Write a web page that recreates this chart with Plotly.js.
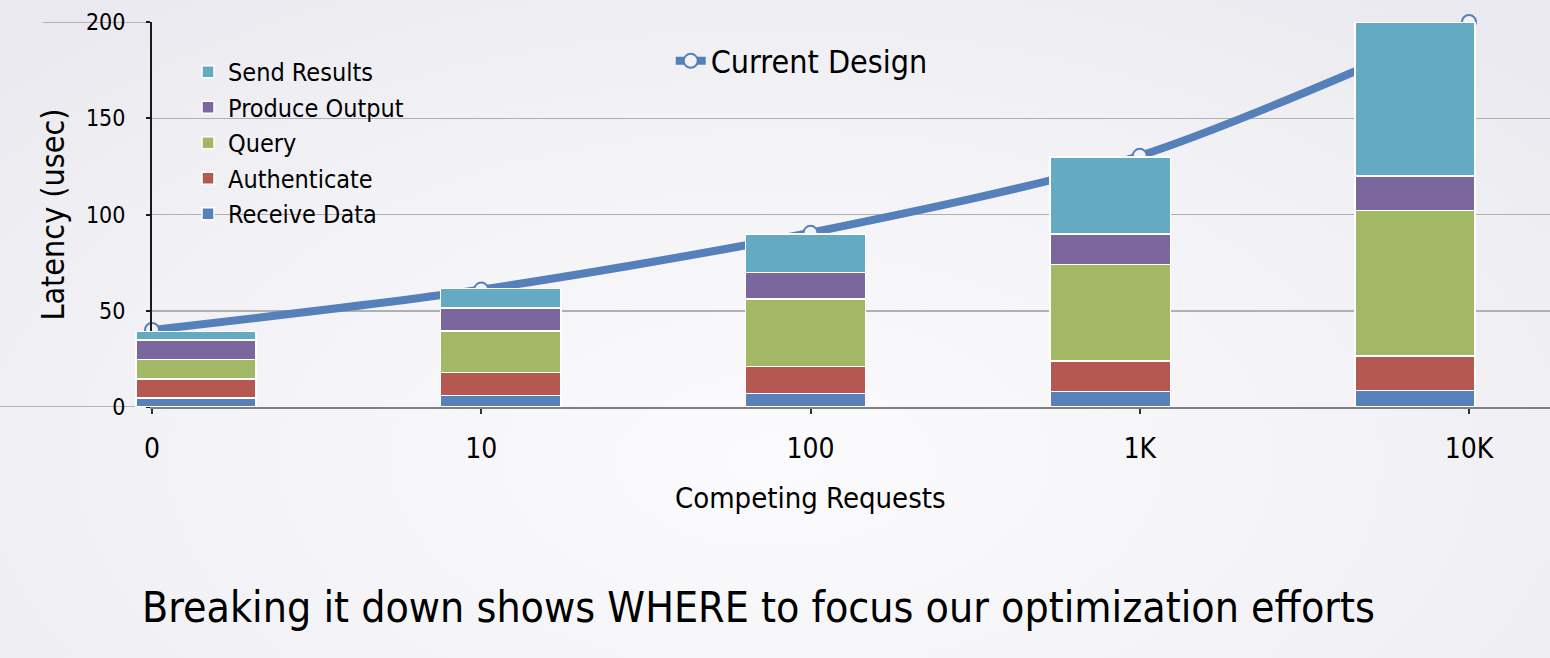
<!DOCTYPE html>
<html>
<head>
<meta charset="utf-8">
<script src="https://cdn.plot.ly/plotly-3.0.1.min.js"></script>
<style>
html,body{margin:0;padding:0;}
body{width:1550px;height:658px;background:radial-gradient(ellipse 70% 90% at 50% 70%, #fbfbfd 0%, #f3f3f7 55%, #e9e9ef 100%);}
#chart{width:1550px;height:658px;}
</style>
</head>
<body>
<div id="chart"></div>
<script>
const categories = ['0', '10', '100', '1K', '10K'];
const receiveData = [4.8, 6, 7, 8, 8.5];
const authenticate = [9.7, 12, 14, 16, 18];
const query = [10.3, 21.5, 35, 50, 75.5];
const produceOutput = [10, 12, 14, 16, 18];
const sendResults = [4.3, 10, 20, 40, 80];
const currentDesign = [40, 61, 90.5, 130.5, 200];
const yTicks = [0, 50, 100, 150, 200];

const FONT = '"DejaVu Sans Condensed", "Liberation Sans Narrow", "DejaVu Sans", sans-serif';

function barTrace(name, values, color) {
  return {
    type: 'bar', name: name, x: categories, y: values,
    xaxis: 'x2', yaxis: 'y2', width: 0.394,
    marker: {color: color, line: {color: '#ffffff', width: 1.5}},
    legend: 'legend'
  };
}

const data = [
  {
    type: 'scatter', mode: 'lines+markers', name: 'Current Design',
    x: categories, y: currentDesign, xaxis: 'x', yaxis: 'y',
    line: {color: '#5580BA', width: 8, shape: 'spline', smoothing: 0.8},
    marker: {size: 14, color: '#f2f2f6', line: {color: '#5580BA', width: 2}},
    cliponaxis: false, legend: 'legend2'
  },
  barTrace('Receive Data', receiveData, '#5781B8'),
  barTrace('Authenticate', authenticate, '#B45851'),
  barTrace('Query', query, '#A2B865'),
  barTrace('Produce Output', produceOutput, '#7B679E'),
  barTrace('Send Results', sendResults, '#63AAC2')
];

const layout = {
  width: 1550, height: 658,
  margin: {l: 130, r: 0, t: 22, b: 251, pad: 0},
  paper_bgcolor: 'rgba(0,0,0,0)', plot_bgcolor: 'rgba(0,0,0,0)',
  font: {family: FONT, color: '#000'},
  barmode: 'stack',
  showlegend: true,
  xaxis: {
    type: 'category', domain: [0.015493, 1], anchor: 'y', range: [0, 4.246],
    showgrid: false, zeroline: false,
    showline: true, linecolor: '#808080', linewidth: 2,
    ticks: 'outside', ticklen: 5, tickwidth: 2, tickcolor: '#333',
    tickfont: {size: 28, family: FONT, color: '#000'}, ticklabelstandoff: 10,
    fixedrange: true
  },
  yaxis: {
    anchor: 'x', range: [0, 200], tickvals: yTicks, ticktext: yTicks.map(String),
    showgrid: true, gridcolor: '#b0b0b4', gridwidth: 1.5, zeroline: false,
    showline: true, linecolor: '#1a1a1a', linewidth: 2,
    ticks: 'outside', ticklen: 4, tickwidth: 2, tickcolor: '#1a1a1a',
    tickfont: {size: 23, family: FONT, color: '#000'}, ticklabelstandoff: 16,
    title: {text: 'Latency (usec)', font: {size: 32, family: FONT, color: '#000'}, standoff: 12},
    fixedrange: true
  },
  xaxis2: {type: 'category', domain: [0, 1], anchor: 'y2', range: [-0.21657, 4.443], visible: false, fixedrange: true},
  yaxis2: {anchor: 'x2', range: [0, 200], visible: false, fixedrange: true},
  legend: {
    x: 0.04085, xanchor: 'left', y: 0.93, yanchor: 'top',
    traceorder: 'reversed', bgcolor: 'rgba(0,0,0,0)',
    font: {size: 25, family: FONT, color: '#000'}, itemclick: false
  },
  legend2: {
    x: 0.3808, xanchor: 'left', y: 0.97, yanchor: 'top',
    bgcolor: 'rgba(0,0,0,0)',
    font: {size: 32, family: FONT, color: '#000'}, itemclick: false
  },
  shapes: [
    {type: 'line', xref: 'paper', yref: 'y', x0: -0.0613, x1: 0.0155, y0: 200, y1: 200,
     line: {color: '#a0a0a4', width: 1.5}, layer: 'below'},
    {type: 'line', xref: 'paper', yref: 'y', x0: -0.0915, x1: 0.0155, y0: 0, y1: 0,
     line: {color: '#a0a0a4', width: 1.5}, layer: 'below'}
  ],
  annotations: [
    {text: 'Competing Requests', xref: 'x', x: 2, yref: 'paper', y: -0.236,
     xanchor: 'center', yanchor: 'middle', showarrow: false,
     font: {size: 29, family: FONT, color: '#000'}},
    {text: 'Breaking it down shows WHERE to focus our optimization efforts',
     xref: 'paper', x: 0.4426, yref: 'paper', y: -0.522,
     xanchor: 'center', yanchor: 'middle', showarrow: false,
     font: {size: 42.5, family: FONT, color: '#000'}}
  ]
};

Plotly.newPlot('chart', data, layout, {displayModeBar: false, staticPlot: true});
</script>
</body>
</html>
